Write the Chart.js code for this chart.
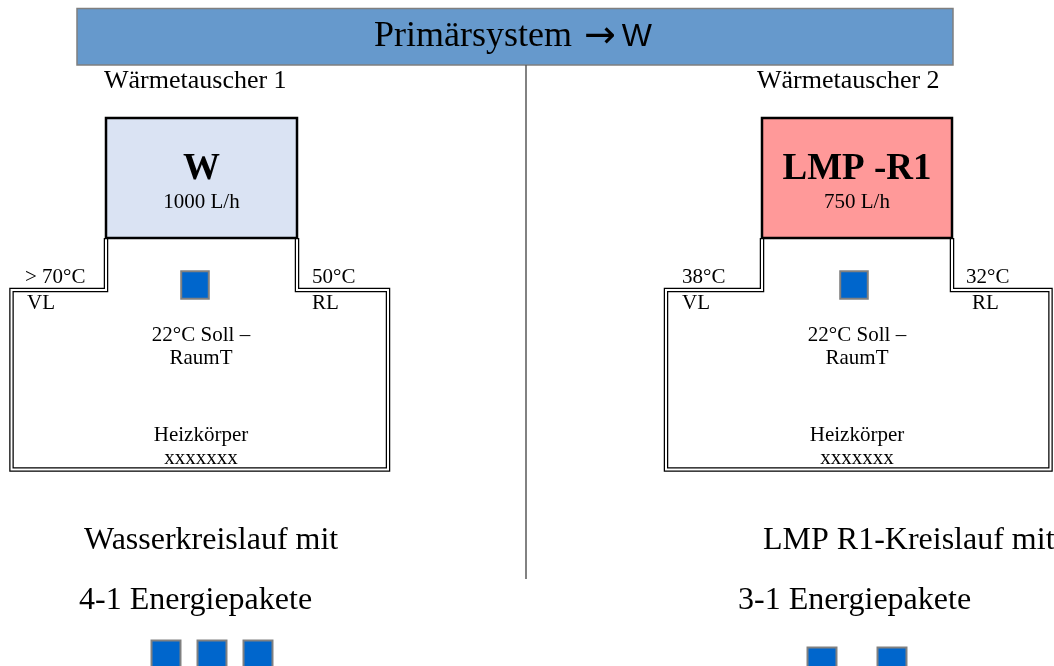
<!DOCTYPE html>
<html lang="de">
<head>
<meta charset="utf-8">
<title>Primärsystem → W</title>
<script src="https://cdn.jsdelivr.net/npm/chart.js@4.4.1/dist/chart.umd.min.js"></script>
<style>
    html, body { margin: 0; padding: 0; background: #fff; }
    .wrap { position: relative; width: 1054px; height: 666px; }
</style>
</head>
<body>
<div class="wrap"><canvas id="schema"></canvas></div>
<script>
// --- Data -------------------------------------------------------------------
const titleSource = 'Primärsystem';
const titleTarget = 'W';
const exchangerLabels = ['Wärmetauscher 1', 'Wärmetauscher 2'];
const mediumNames = ['W', 'LMP -R1'];
const flowRates = ['1000 L/h', '750 L/h'];
const supplyTemps = ['> 70°C', '38°C'];
const returnTemps = ['50°C', '32°C'];
const roomLabel = ['22°C Soll –', 'RaumT'];
const radiatorLabel = ['Heizkörper', 'xxxxxxx'];
const circuitNames = ['Wasserkreislauf mit', 'LMP R1-Kreislauf mit'];
const packetLabels = ['4-1 Energiepakete', '3-1 Energiepakete'];
const packetCounts = [3, 2];      // energy packets shown below each circuit
const loopPacketCounts = [1, 1];  // packet inside each loop

// --- Layout (pixel space of the 1054x666 canvas) ----------------------------
const panels = [
    { boxL: 106, boxR: 297, loopL: 11.5, loopR: 388, mid: 201, fill: '#DAE3F3',
      labelX: 104, supX: 25, vlX: 27, retX: 312, rlX: 312, nameX: 84, pkLabelX: 79,
      pkCenter: 212, pkGap: 46, pkY: 655, loopPkX: 195 },
    { boxL: 762, boxR: 952, loopL: 666, loopR: 1050.5, mid: 857, fill: '#FF9999',
      labelX: 757, supX: 682, vlX: 682, retX: 966, rlX: 972, nameX: 763, pkLabelX: 738,
      pkCenter: 857, pkGap: 70, pkY: 662, loopPkX: 854 }
];
const SERIF = '"Liberation Serif", "Times New Roman", serif';
const SANS = '"Liberation Sans", Arial, sans-serif';
const ARROW = '"DejaVu Sans", sans-serif';

document.addEventListener('DOMContentLoaded', () => {

    // 1. Build packet points from the counts
    const packetPoints = [];
    const loopPoints = [];
    panels.forEach((p, i) => {
        for (let k = 0; k < packetCounts[i]; k++) {
            packetPoints.push({ x: p.pkCenter + (k - (packetCounts[i] - 1) / 2) * p.pkGap, y: p.pkY });
        }
        for (let k = 0; k < loopPacketCounts[i]; k++) {
            loopPoints.push({ x: p.loopPkX, y: 285 });
        }
    });

    // 2. Diagram plugin: draws boxes, pipes and labels through the scales
    const schemaPlugin = {
        id: 'schema',
        beforeDatasetsDraw(chart) {
            const { ctx, scales } = chart;
            const X = v => scales.x.getPixelForValue(v);
            const Y = v => scales.y.getPixelForValue(v);
            ctx.save();

            // header bar
            ctx.fillStyle = '#6699CC';
            ctx.fillRect(X(77), Y(8.5), X(953) - X(77), Y(65) - Y(8.5));
            ctx.strokeStyle = '#7F7F7F';
            ctx.lineWidth = 1.5;
            ctx.strokeRect(X(77), Y(8.5), X(953) - X(77), Y(65) - Y(8.5));

            // title: serif text, arrow, sans target
            ctx.textBaseline = 'middle';
            ctx.textAlign = 'left';
            ctx.fillStyle = '#000';
            const fSerif = '36px ' + SERIF, fArrow = '38px ' + ARROW, fSans = '32px ' + SANS;
            ctx.font = fSerif; const wA = ctx.measureText(titleSource).width;
            ctx.font = fArrow; const wB = ctx.measureText('→').width;
            ctx.font = fSans; const wC = ctx.measureText(titleTarget).width;
            const gap1 = 12, gap2 = 6;
            let tx = X(513) - (wA + gap1 + wB + gap2 + wC) / 2;
            ctx.font = fSerif; ctx.fillText(titleSource, tx, Y(37));
            tx += wA + gap1;
            ctx.font = fArrow; ctx.fillText('→', tx, Y(37));
            tx += wB + gap2;
            ctx.font = fSans; ctx.fillText(titleTarget, tx, Y(37));

            // divider
            ctx.strokeStyle = '#595959';
            ctx.lineWidth = 1.5;
            ctx.beginPath();
            ctx.moveTo(X(526), Y(65));
            ctx.lineTo(X(526), Y(579));
            ctx.stroke();

            panels.forEach((p, i) => {
                // double-line pipe loop
                const path = () => {
                    ctx.beginPath();
                    ctx.moveTo(X(p.boxL), Y(238));
                    ctx.lineTo(X(p.boxL), Y(290));
                    ctx.lineTo(X(p.loopL), Y(290));
                    ctx.lineTo(X(p.loopL), Y(469.5));
                    ctx.lineTo(X(p.loopR), Y(469.5));
                    ctx.lineTo(X(p.loopR), Y(290));
                    ctx.lineTo(X(p.boxR), Y(290));
                    ctx.lineTo(X(p.boxR), Y(238));
                };
                ctx.lineJoin = 'miter';
                path();
                ctx.strokeStyle = '#000';
                ctx.lineWidth = 4.5;
                ctx.stroke();
                path();
                ctx.strokeStyle = '#fff';
                ctx.lineWidth = 2;
                ctx.stroke();

                // heat exchanger box
                ctx.fillStyle = p.fill;
                ctx.fillRect(X(p.boxL), Y(118), X(p.boxR) - X(p.boxL), Y(238) - Y(118));
                ctx.strokeStyle = '#000';
                ctx.lineWidth = 2.5;
                ctx.strokeRect(X(p.boxL), Y(118), X(p.boxR) - X(p.boxL), Y(238) - Y(118));

                ctx.fillStyle = '#000';
                ctx.textAlign = 'center';
                ctx.font = 'bold 37px ' + SERIF;
                ctx.fillText(mediumNames[i], X((p.boxL + p.boxR) / 2), Y(169));
                ctx.font = '21px ' + SERIF;
                ctx.fillText(flowRates[i], X((p.boxL + p.boxR) / 2), Y(202));

                // labels
                ctx.textAlign = 'left';
                ctx.font = '26px ' + SERIF;
                ctx.fillText(exchangerLabels[i], X(p.labelX), Y(81));
                ctx.font = '21px ' + SERIF;
                ctx.fillText(supplyTemps[i], X(p.supX), Y(277));
                ctx.fillText('VL', X(p.vlX), Y(303));
                ctx.fillText(returnTemps[i], X(p.retX), Y(277));
                ctx.fillText('RL', X(p.rlX), Y(303));

                ctx.textAlign = 'center';
                ctx.fillText(roomLabel[0], X(p.mid), Y(335));
                ctx.fillText(roomLabel[1], X(p.mid), Y(358));
                ctx.fillText(radiatorLabel[0], X(p.mid), Y(435));
                ctx.fillText(radiatorLabel[1], X(p.mid), Y(458));

                ctx.textAlign = 'left';
                ctx.font = '32px ' + SERIF;
                ctx.fillText(circuitNames[i], X(p.nameX), Y(541));
                ctx.fillText(packetLabels[i], X(p.pkLabelX), Y(601));
            });

            ctx.restore();
        }
    };

    // 3. Chart config
    const config = {
        type: 'scatter',
        data: {
            datasets: [
                {
                    label: 'Energiepakete',
                    data: packetPoints,
                    pointStyle: 'rect',
                    pointRadius: 20.5,
                    backgroundColor: '#0066CC',
                    borderColor: '#808080',
                    borderWidth: 2
                },
                {
                    label: 'Paket im Kreislauf',
                    data: loopPoints,
                    pointStyle: 'rect',
                    pointRadius: 19.5,
                    backgroundColor: '#0066CC',
                    borderColor: '#808080',
                    borderWidth: 2
                }
            ]
        },
        options: {
            responsive: true,
            maintainAspectRatio: false,
            animation: false,
            clip: false,
            layout: { padding: 0, autoPadding: false },
            plugins: {
                legend: { display: false },
                tooltip: { enabled: false }
            },
            scales: {
                x: { type: 'linear', min: 0, max: 1054, display: false },
                y: { type: 'linear', min: 0, max: 666, reverse: true, display: false }
            }
        },
        plugins: [schemaPlugin]
    };

    window.schemaChart = new Chart(document.getElementById('schema'), config);
});
</script>
</body>
</html>
